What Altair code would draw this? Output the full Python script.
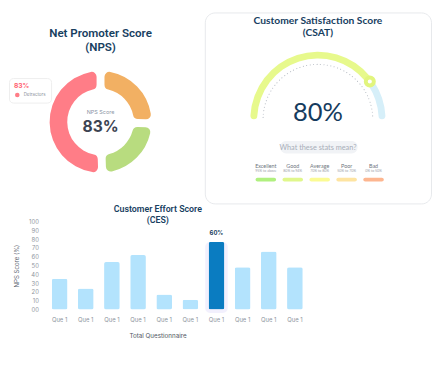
import math
import altair as alt
import pandas as pd

# ---------------- data ----------------
# Net Promoter Score donut
nps_title = ["Net Promoter Score", "(NPS)"]
nps_segments = ["Passives", "Promoters", "Detractors"]
nps_values = [25.5, 24.0, 50.5]
nps_colors = ["#f2b063", "#b8dc7f", "#ff7d87"]
nps_score = "83%"
nps_score_label = "NPS Score"

# Customer Satisfaction gauge
csat_title = ["Customer Satisfaction Score", "(CSAT)"]
csat_value = 80
csat_max = 100
csat_parts = ["score", "rest"]
csat_part_colors = ["#e7f98c", "#d6eff9"]
csat_button = "What these stats mean?"
csat_levels = ["Excellent", "Good", "Average", "Poor", "Bad"]
csat_ranges = ["95% to above", "80% to 94%", "70% to 80%", "50% to 70%", "0% to 50%"]
csat_level_colors = ["#b0f07f", "#e0f78c", "#fbfb94", "#fee4a1", "#fdb690"]

# Customer Effort Score bars
ces_title = ["Customer Effort Score", "(CES)"]
ces_ids = [str(i + 1) for i in range(10)]
ces_labels = ["Que 1"] * 10
ces_values = [35, 24, 54, 62, 17, 11, 77, 48, 66, 48]
ces_annot = ["", "", "", "", "", "", "60%", "", "", ""]
ces_yticks = [0, 10, 20, 30, 40, 50, 60, 70, 80, 90, 100]
ces_zero_label = "00"

# ---------------- layout constants ----------------
DY = -4
TOP_H = 195
NPS_W = 187
CSAT_W = 231
NAVY = "#17405f"
CES_W = 308
CES_H = 109.3
PLOT_L = 35.7
PLOT_T = 19.7


def text_layer(t, y, x=None, **kw):
    enc = {"text": "t:N", "y": alt.value(y)}
    if x is not None:
        enc["x"] = alt.value(x)
    return alt.Chart(pd.DataFrame({"t": [t]})).mark_text(**kw).encode(**enc)


# ---------------- NPS panel ----------------
nps_df = pd.DataFrame({"segment": nps_segments, "value": nps_values,
                       "ord": list(range(len(nps_segments)))})
nps_cy = 115.7 + DY

donut = alt.Chart(nps_df).mark_arc(
    innerRadius=34, outerRadius=52, padAngle=0.13, cornerRadius=5
).encode(
    theta=alt.Theta("value:Q", stack=True),
    order=alt.Order("ord:Q"),
    color=alt.Color(
        "segment:N",
        scale=alt.Scale(domain=nps_segments, range=nps_colors),
        legend=alt.Legend(
            orient="none", legendX=0, legendY=71 + DY, title=nps_score,
            titleColor="#ff5c6c", titleFontSize=6.8, titleFont="Inter",
            titleFontWeight="bold", titlePadding=3, values=["Detractors"],
            symbolType="circle", symbolSize=22, symbolStrokeWidth=0,
            labelFontSize=4.5, labelColor="#8a8f99", labelFont="Inter",
            fillColor="white", strokeColor="#eeeeee", cornerRadius=4, padding=5,
            labelLimit=60, symbolOffset=1,
        ),
    ),
    y=alt.value(nps_cy),
)

nps = alt.layer(
    donut,
    text_layer(nps_title[0], 25.3 + DY, fontSize=11.8, font="Roboto", fontWeight=600, color=NAVY),
    text_layer(nps_title[1], 39.3 + DY, fontSize=11.8, font="Roboto", fontWeight=600, color=NAVY),
    text_layer(nps_score_label, nps_cy - 9.6, fontSize=5.6, color="#8c95a5", font="Inter"),
    text_layer(nps_score, nps_cy + 5, fontSize=16, color="#3c4452", font="Inter",
               fontWeight="bold"),
    text_layer(nps_score_label, 81.5 + DY, x=21, fontSize=4.2, color="#8f96a0", font="Inter",
               align="left"),
).properties(width=NPS_W, height=TOP_H)

# ---------------- CSAT panel ----------------
g_cy = 113 + DY
theta_scale = alt.Scale(domain=[0, csat_max], range=[-math.pi / 2, math.pi / 2])
gauge_df = pd.DataFrame({"part": csat_parts, "start": [0, csat_value],
                         "end": [csat_value, csat_max]})
gauge = alt.Chart(gauge_df).mark_arc(innerRadius=62, outerRadius=69, cornerRadius=3.5).encode(
    theta=alt.Theta("start:Q", scale=theta_scale),
    theta2="end:Q",
    color=alt.Color("part:N", scale=alt.Scale(domain=csat_parts, range=csat_part_colors),
                    legend=None),
    y=alt.value(g_cy),
)
dots = alt.Chart(pd.DataFrame({"start": [1], "end": [99]})).mark_arc(
    innerRadius=56, outerRadius=56, filled=False, stroke="#b9bec6",
    strokeWidth=1.1, strokeDash=[0.1, 7], strokeCap="round"
).encode(theta=alt.Theta("start:Q", scale=theta_scale), theta2="end:Q", y=alt.value(g_cy))

knob = alt.Chart(pd.DataFrame({"v": [csat_value]})).transform_calculate(
    a=f"-PI/2 + PI*datum.v/{csat_max}",
).transform_calculate(
    kx=f"{CSAT_W / 2} + 65.5*sin(datum.a)",
    ky=f"{g_cy} - 65.5*cos(datum.a)",
).mark_point(shape="circle", size=68, filled=False, stroke="#e2f57e",
             strokeWidth=4, fill="white", fillOpacity=1).encode(
    x=alt.X("kx:Q", scale=None), y=alt.Y("ky:Q", scale=None)
)

btn = alt.Chart(pd.DataFrame({"t": [csat_button]})).mark_rect(
    fill="#f1f3f6", cornerRadius=6
).encode(x=alt.value(77), x2=alt.value(156), y=alt.value(135.3 + DY), y2=alt.value(148 + DY))

lev_df = pd.DataFrame({"level": csat_levels, "range": csat_ranges})
lev_x = alt.X("level:N", sort=None, axis=None,
              scale=alt.Scale(type="point", domain=csat_levels, range=[62.3, 172.3], padding=0))
lev_names = alt.Chart(lev_df).mark_text(fontSize=5.5, font="Lato", color="#6f7680").encode(
    x=lev_x, text="level:N", y=alt.value(161 + DY))
lev_ranges = alt.Chart(lev_df).mark_text(fontSize=3.6, font="Lato", color="#9aa0aa").encode(
    x=lev_x, text="range:N", y=alt.value(166.3 + DY))
lev_sw = alt.Chart(lev_df).mark_tick(orient="horizontal", size=21, thickness=4,
                                     cornerRadius=2, opacity=1).encode(
    x=lev_x, y=alt.value(174.7 + DY),
    color=alt.Color("level:N", scale=alt.Scale(domain=csat_levels, range=csat_level_colors),
                    legend=None))

csat = alt.layer(
    gauge, dots, knob,
    text_layer(csat_title[0], 12.7 + DY, fontSize=10.5, font="Lato", fontWeight="bold", color=NAVY),
    text_layer(csat_title[1], 25.3 + DY, fontSize=10.5, font="Lato", fontWeight="bold", color=NAVY),
    text_layer(f"{csat_value}%", 107 + DY, fontSize=26, font="Lato", color="#153b5e"),
    btn,
    text_layer(csat_button, 142 + DY, fontSize=7.5, font="Lato", color="#a8aeb8"),
    lev_names, lev_ranges, lev_sw,
).resolve_scale(color="independent", x="independent").properties(
    width=CSAT_W, height=TOP_H,
    view=alt.ViewBackground(fill="white", stroke="#e6e8ec", strokeWidth=1, cornerRadius=10),
)

# ---------------- CES panel ----------------
ces_df = pd.DataFrame({"q": ces_ids, "value": ces_values, "annot": ces_annot})
label_arr = "[" + ",".join(f"'{s}'" for s in ces_labels) + "]"

x_enc = alt.X("q:N", sort=None,
              scale=alt.Scale(domain=ces_ids, range=[PLOT_L, CES_W],
                              paddingInner=0.4, paddingOuter=0.3),
              axis=alt.Axis(labelExpr=f"{label_arr}[toNumber(datum.value)-1]", labelAngle=0,
                            title="Total Questionnaire", domain=False, ticks=False,
                            labelFontSize=6, labelColor="#8e959e", labelFont="Inter",
                            labelPadding=7, titleFontSize=6.4, titleColor="#4f5763",
                            titleFont="Inter", titleFontWeight="normal", titlePadding=11,
                            titleX=151.7))
y_enc = alt.Y("value:Q", scale=alt.Scale(domain=[0, 100], range=[CES_H, PLOT_T]),
              axis=alt.Axis(values=ces_yticks, offset=-PLOT_L,
                            labelExpr=f"datum.value == 0 ? '{ces_zero_label}' : datum.label",
                            title="NPS  Score (%)", domain=False, ticks=False, grid=False,
                            labelFontSize=6, labelColor="#8e959e", labelFont="Inter",
                            labelPadding=5.7, titleFontSize=6.2, titleColor="#5b6370",
                            titleFont="Inter", titleFontWeight="normal", titlePadding=9.5))

bars = alt.Chart(ces_df).mark_bar(cornerRadius=2).encode(
    x=x_enc, y=y_enc,
    color=alt.condition("datum.annot != ''", alt.value("#0a7cc1"), alt.value("#b3e3fd")),
)
glow = alt.Chart(ces_df).transform_filter("datum.annot != ''").mark_bar(
    size=23, cornerRadius=5, color="#7b6ff0", opacity=0.10
).encode(x=x_enc, y=y_enc, y2=alt.datum(-4))
annot = alt.Chart(ces_df).transform_filter("datum.annot != ''").mark_text(
    dy=-9, fontSize=6, fontWeight="bold", font="Inter", color="#1b3f60"
).encode(x=x_enc, y=y_enc, text="annot:N")

ces = alt.layer(
    glow, bars, annot,
    text_layer(ces_title[0], 7, x=152, fontSize=9, font="Roboto", fontWeight=600, color=NAVY),
    text_layer(ces_title[1], 18, x=152, fontSize=9, font="Roboto", fontWeight=600, color=NAVY),
).properties(width=CES_W, height=CES_H)

top = alt.hconcat(nps, csat, spacing=11)
chart = alt.concat(top, ces, columns=1, align="none", spacing=-3).properties(
    padding=0, background="white"
).configure_view(stroke="transparent")

chart.save("out.html", embed_options={"renderer": "svg", "actions": False})
